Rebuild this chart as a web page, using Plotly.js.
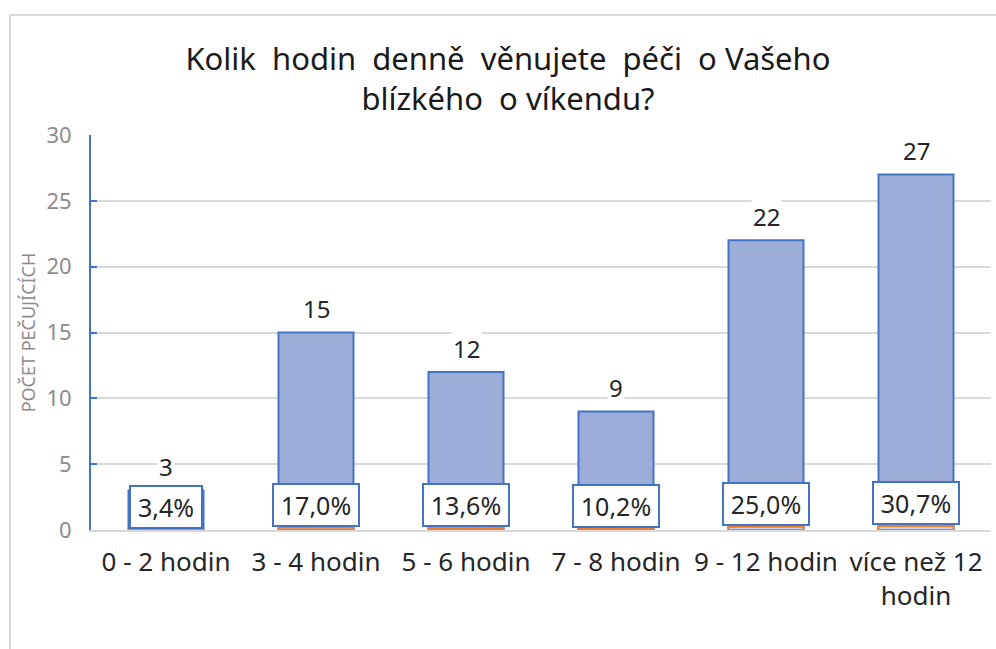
<!DOCTYPE html>
<html>
<head>
<meta charset="utf-8">
<script src="https://cdn.plot.ly/plotly-3.0.1.min.js"></script>
<style>
  html, body { margin: 0; padding: 0; background: #fff; }
  #wrap { position: relative; width: 996px; height: 649px; overflow: hidden; }
  #frame { position: absolute; left: 9px; top: 14px; width: 1000px; height: 700px;
           border-left: 2px solid #d9d9d9; border-top: 2px solid #d9d9d9; pointer-events: none; }
  #chart { position: absolute; left: 0; top: 0; width: 996px; height: 649px; }
</style>
</head>
<body>
<div id="wrap">
  <div id="chart"></div>
  <div id="frame"></div>
</div>
<script>
// ---- data ----
const categories = ['0 - 2 hodin', '3 - 4 hodin', '5 - 6 hodin', '7 - 8 hodin', '9 - 12 hodin', 'více než 12<br>hodin'];
const counts = [3, 15, 12, 9, 22, 27];
const shares = [0.034, 0.170, 0.136, 0.102, 0.250, 0.307];
const shareLabels = ['3,4%', '17,0%', '13,6%', '10,2%', '25,0%', '30,7%'];
const yTicks = [0, 5, 10, 15, 20, 25, 30];
const titleText = 'Kolik  hodin  denně  věnujete  péči  o Vašeho<br>blízkého  o víkendu?';
const yTitle = 'POČET PEČUJÍCÍCH';

const FONT = 'Noto Sans, Open Sans, sans-serif';
const BLUE = '#4472c4';

const traces = [
  {
    type: 'bar', x: categories, y: counts,
    width: 0.5,
    marker: { color: '#9cadda', line: { color: BLUE, width: 2 } },
    hoverinfo: 'skip'
  },
  {
    type: 'bar', x: categories, y: shares,
    width: 0.5,
    marker: { color: '#c5d0ea', line: { color: '#ed7d31', width: 2 } },
    hoverinfo: 'skip'
  }
];

const annotations = [];
categories.forEach((c, i) => {
  annotations.push({
    x: c, y: counts[i], xref: 'x', yref: 'y',
    text: String(counts[i]), showarrow: false,
    yanchor: 'middle', yshift: 24,
    bgcolor: '#ffffff', borderpad: 1,
    font: { family: FONT, size: 24, color: '#262626' }
  });
  annotations.push({
    x: c, y: shares[i], xref: 'x', yref: 'y',
    text: shareLabels[i], showarrow: false,
    yanchor: 'bottom', yshift: 1,
    width: shareLabels[i].length > 4 ? 78 : 64,
    bgcolor: '#ffffff', bordercolor: BLUE, borderwidth: 2, borderpad: 3,
    font: { family: FONT, size: 25, color: '#262626' }
  });
});

const layout = {
  width: 996, height: 649,
  margin: { l: 91, r: 5, t: 135, b: 119, pad: 0 },
  paper_bgcolor: 'rgba(0,0,0,0)', plot_bgcolor: 'rgba(0,0,0,0)',
  barmode: 'overlay',
  showlegend: false,
  title: {
    text: titleText,
    x: 0.51, xref: 'container', xanchor: 'center',
    y: 1 - 70 / 649, yref: 'container', yanchor: 'middle',
    font: { family: FONT, size: 31, color: '#1a1a1a' }
  },
  xaxis: {
    type: 'category',
    range: [-0.5, 5.5],
    showline: true, linecolor: '#d9d9d9', linewidth: 2,
    showgrid: false, ticks: '',
    tickfont: { family: FONT, size: 26, color: '#262626' },
    ticklabelstandoff: 8
  },
  yaxis: {
    range: [0, 30],
    tickvals: yTicks, ticktext: yTicks.map(String),
    showline: true, linecolor: BLUE, linewidth: 2,
    ticks: 'inside', ticklen: 6, tickwidth: 2, tickcolor: BLUE,
    showgrid: true, gridcolor: '#d9d9d9', gridwidth: 2,
    zeroline: false,
    tickfont: { family: FONT, size: 22, color: '#8c8c8c' },
    ticklabelstandoff: 13,
    title: { text: yTitle, standoff: 6, font: { family: FONT, size: 18, color: '#8c8c8c' } }
  },
  annotations: annotations
};

Plotly.newPlot('chart', traces, layout, { displayModeBar: false, staticPlot: true });
</script>
</body>
</html>
